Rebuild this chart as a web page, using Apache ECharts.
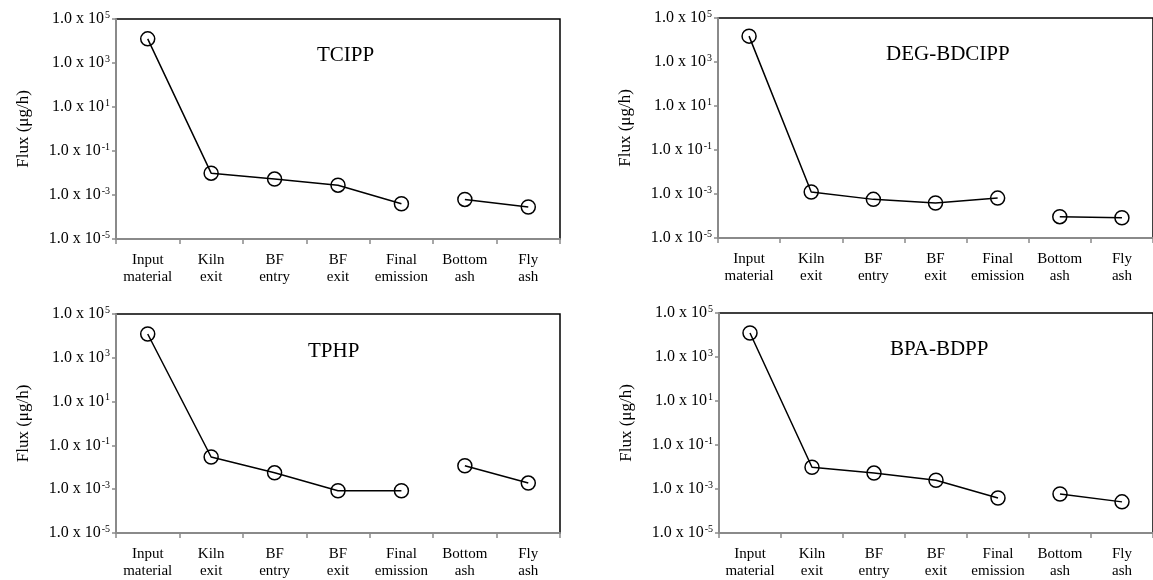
<!DOCTYPE html>
<html>
<head>
<meta charset="utf-8">
<script src="https://cdn.jsdelivr.net/npm/echarts@6/dist/echarts.min.js"></script>
<style>html,body{margin:0;padding:0;background:#fff;}#c{width:1153px;height:580px;}</style>
</head>
<body>
<div id="c"></div>
<script>
const categories = ['Input\nmaterial', 'Kiln\nexit', 'BF\nentry', 'BF\nexit', 'Final\nemission', 'Bottom\nash', 'Fly\nash'];
const panelTitles = ['TCIPP', 'DEG-BDCIPP', 'TPHP', 'BPA-BDPP'];
const tcipp = [1.25e4, 9.8e-3, 5.3e-3, 2.8e-3, 4.0e-4, 6.3e-4, 2.85e-4];
const degBdcipp = [1.5e4, 1.23e-3, 5.7e-4, 3.9e-4, 6.5e-4, 9.3e-5, 8.3e-5];
const tphp = [1.22e4, 2.95e-2, 5.6e-3, 8.5e-4, 8.5e-4, 1.18e-2, 1.9e-3];
const bpaBdpp = [1.23e4, 9.7e-3, 5.3e-3, 2.5e-3, 3.9e-4, 5.9e-4, 2.6e-4];
const yAxisName = 'Flux (μg/h)';
const yMin = 1e-5, yMax = 1e5;
const processCount = 5; // first 5 steps joined, last 2 (residues) joined separately

const seriesValues = [tcipp, degBdcipp, tphp, bpaBdpp];

const FONT = '"Liberation Serif", "DejaVu Serif", serif';
const grids = [
  {left: 116, top: 19, width: 444, height: 220},
  {left: 718, top: 18, width: 436, height: 220},
  {left: 116, top: 314, width: 444, height: 219},
  {left: 719, top: 313, width: 435, height: 220}
];
const titlePos = [
  {left: 317, top: 45},
  {left: 886, top: 44},
  {left: 308, top: 341},
  {left: 890, top: 339}
];

const option = {
  animation: false,
  backgroundColor: '#fff',
  title: panelTitles.map((t, i) => ({
    text: t, left: titlePos[i].left, top: titlePos[i].top, padding: 0,
    textStyle: {fontFamily: FONT, fontSize: 21, fontWeight: 'normal', color: '#000'}
  })),
  grid: grids.map(g => Object.assign({show: true, borderColor: '#000', borderWidth: 1.5, backgroundColor: 'transparent'}, g)),
  xAxis: grids.map((g, i) => ({
    type: 'category', gridIndex: i, data: categories, boundaryGap: true,
    axisLine: {show: true, lineStyle: {color: '#8a8a8a', width: 2}},
    axisTick: {show: true, length: 5, lineStyle: {color: '#8a8a8a', width: 1.5}},
    axisLabel: {interval: 0, margin: 13, fontFamily: FONT, fontSize: 15, lineHeight: 17, color: '#000'},
    splitLine: {show: false}
  })),
  yAxis: grids.map((g, i) => ({
    type: 'log', logBase: 10, gridIndex: i, min: yMin, max: yMax, interval: 2,
    name: yAxisName, nameLocation: 'middle', nameGap: 84, nameRotate: 90,
    nameTextStyle: {fontFamily: FONT, fontSize: 17, color: '#000'},
    axisLine: {show: true, lineStyle: {color: '#8a8a8a', width: 2}},
    axisTick: {show: true, length: 4, lineStyle: {color: '#8a8a8a', width: 1.5}},
    splitLine: {show: false},
    minorTick: {show: false},
    axisLabel: {
      margin: 6, color: '#000',
      formatter: v => '{a|1.0 x 10}{s|' + Math.round(Math.log10(v)) + '}',
      rich: {
        a: {fontFamily: FONT, fontSize: 16, color: '#000', lineHeight: 18},
        s: {fontFamily: FONT, fontSize: 10, color: '#000', verticalAlign: 'top', lineHeight: 12, padding: [0, 0, 0, 1]}
      }
    }
  })),
  series: []
};

seriesValues.forEach((vals, i) => {
  const proc = vals.map((v, k) => k < processCount ? v : '-');
  const resid = vals.map((v, k) => k >= processCount ? v : '-');
  [proc, resid].forEach(d => {
    option.series.push({
      type: 'line', xAxisIndex: i, yAxisIndex: i, data: d,
      symbol: 'circle', symbolSize: 14, showAllSymbol: true,
      lineStyle: {color: '#000', width: 1.5},
      itemStyle: {color: 'transparent', borderColor: '#000', borderWidth: 1.5},
      emphasis: {disabled: true}
    });
  });
});

const chart = echarts.init(document.getElementById('c'), null, {renderer: 'canvas'});
chart.setOption(option);
</script>
</body>
</html>
